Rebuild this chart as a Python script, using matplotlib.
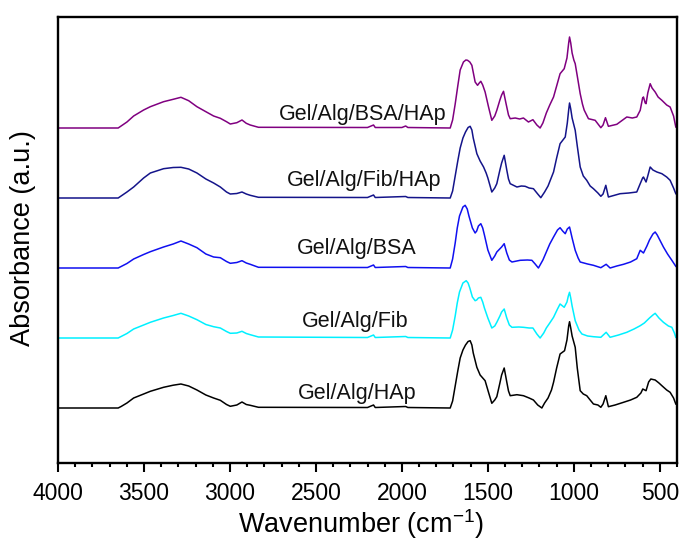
import matplotlib
matplotlib.use("Agg")
import matplotlib.pyplot as plt
from matplotlib.ticker import MultipleLocator, FixedLocator

plt.rcParams['font.family'] = ['Liberation Sans', 'DejaVu Sans']
plt.rcParams['mathtext.default'] = 'regular'

# (wavenumber cm^-1, absorbance a.u.)
bsa_hap = [(4000,0),(3650,0),(3633,2),(3599,6),(3560,12),(3502,18),(3463,21.3),(3386,26.3),(3330,28.7),
           (3285,30.7),(3240,27.3),(3192,21.3),(3140,16.3),(3095,12),(3056,9.7),(3020,6.3),(2998,4),
           (2960,5.3),(2930,8),(2905,4.7),(2882,3),(2834,0.7),(2200,0.5),(2165,3),(2155,0.5),(2000,0.5),
           (1978,2),(1965,0.5),
           (1719,0),(1705,8),(1690,24),(1675,42),(1661,58),(1642,66),(1628,68),(1618,67.7),(1605,66),
           (1593,62.7),(1574,46),(1560,42.7),(1550,45),(1541,46.7),(1530,43),(1516,36),(1496,21),(1477,7.7),
           (1460,12),(1448,17.7),(1430,28),(1420,33),(1409,36.7),(1395,25),(1380,13),(1370,9.3),(1341,10),
           (1315,9),(1293,10),(1264,6),(1238,8.3),(1215,3),(1196,0),(1180,5),(1160,15),(1140,23),(1118,31),
           (1100,42),(1080,54.3),(1056,59.3),(1040,70),(1030,85),(1025,91),(1018,85),(1010,75),(1000,68),
           (992,64.3),(980,52),(963,34.3),(950,24),(940,18),(915,9.3),(876,7.7),(843,0.3),(830,3),
           (816,10.3),(799,1.7),(750,3.7),(692,11),(660,10),(634,11),(614,17.7),(600,30),(595,31),
           (585,25),(580,24.3),(570,35),(556,44.3),(545,40),(527,36),(510,31),(488,27.7),(460,23),(440,21),
           (420,12),(407,1)]
fib_hap = [(4000,0),(3650,0),(3633,2),(3599,6),(3560,11),(3502,20),(3463,25),(3386,29.3),(3330,30.5),
           (3285,30.7),(3240,29),(3192,25),(3140,19),(3095,15),(3056,11),(3020,6),(2998,4),(2960,4.5),
           (2930,6),(2905,4),(2882,2.7),(2834,0.7),(2200,0.5),(2165,3),(2155,0.5),(1978,1.5),(1965,0.5),
           (1719,0),(1705,7),(1690,22),(1675,37),(1661,50),(1645,60),(1630,66),(1615,70.5),(1603,71.7),
           (1593,68),(1585,60),(1564,44.3),(1545,37),(1525,31),(1510,25),(1500,20),(1477,6),(1460,10),
           (1448,14.3),(1430,28),(1420,35),(1405,42.7),(1390,28),(1380,19),(1370,14.3),(1331,11),(1305,12),
           (1283,11.7),(1260,10),(1235,9.3),(1210,4),(1192,0.3),(1170,6),(1150,12),(1118,26),(1100,40),
           (1080,54.3),(1050,61),(1038,75),(1030,88),(1025,95),(1018,89),(1010,80),(992,67.7),(980,52),
           (963,31),(945,22),(925,17.7),(905,12),(886,9.3),(860,5),(843,1.7),(830,4),(814,12.7),(799,1),
           (731,4.3),(680,5),(634,6),(614,14.3),(600,20),(595,21),(580,16),(570,22),(556,31),(540,28),
           (517,26),(488,24.3),(460,21),(440,17.7),(420,10),(407,4.3)]
bsa = [(4000,0),(3650,0),(3633,1.5),(3599,4.5),(3560,9),(3502,13.5),(3463,16.3),(3386,21),(3330,24),
       (3285,27),(3240,24),(3192,20.3),(3140,14),(3095,11),(3056,10.3),(3020,6.5),(2998,4.7),(2960,5.5),
       (2930,7.3),(2905,5),(2882,3.7),(2834,0.7),(2200,0.5),(2165,3),(2155,0.5),(1978,1.5),(1965,0.5),
       (1719,0),(1705,9),(1690,25),(1678,40),(1665,52),(1645,61),(1632,62.7),(1620,59),(1610,52),
       (1590,40),(1574,35),(1565,37),(1555,42),(1541,44.3),(1530,40),(1520,33),(1500,18),(1477,7.7),
       (1460,12),(1448,16),(1420,21),(1405,24.3),(1390,15),(1375,8),(1360,6),(1312,7.7),(1270,8),
       (1244,7.7),(1225,4),(1206,0),(1180,8),(1160,16),(1140,24),(1118,31),(1095,38),(1080,40.3),
       (1065,37),(1050,34.3),(1038,39),(1025,41),(1018,36),(1010,30),(992,17.7),(975,10),(963,6),
       (920,4),(886,2.7),(843,0.3),(812,3.7),(789,0),(750,2),(711,3.7),(670,6),(634,9.3),(614,17.7),
       (595,15),(575,22),(560,28),(540,34),(527,36),(515,33),(500,28),(479,21),(455,14),(430,7.7),
       (407,1.7)]
fib = [(4000,0),(3650,0),(3633,1.5),(3599,4.5),(3560,9),(3502,13),(3463,15.7),(3386,20),(3330,22.5),
       (3285,24.7),(3240,22),(3192,18.3),(3140,13.5),(3095,11.3),(3056,10),(3020,6.5),(2998,4.7),
       (2960,5),(2930,6.7),(2905,4.5),(2882,3.3),(2834,1),(2200,0.5),(2165,3),(2155,0.5),(1978,1.5),
       (1965,0.5),
       (1719,0),(1705,8),(1690,22),(1678,35),(1665,46),(1645,55),(1626,57.3),(1615,55),(1605,50),
       (1590,41),(1574,37.3),(1565,38),(1555,40),(1541,40.7),(1530,36),(1520,30),(1500,20),(1477,10),
       (1460,12),(1448,15.7),(1430,22),(1420,26),(1405,29),(1390,20),(1375,13),(1360,10.7),(1320,11),
       (1293,10.7),(1260,10),(1238,10),(1215,4),(1196,0),(1175,5),(1160,10),(1140,15),(1118,20.7),
       (1095,29),(1080,34),(1056,30.7),(1040,36),(1032,42),(1025,45.7),(1018,40),(1010,32),(992,17.3),
       (970,8),(953,4),(920,2),(886,1.3),(843,0.7),(812,5.7),(789,0.7),(740,3),(692,5.7),(650,9),
       (614,12.3),(590,15),(560,20),(540,23),(527,24.7),(505,20),(479,15.7),(450,12),(430,10.7),
       (415,5),(407,0.7)]
hap = [(4000,0),(3650,0),(3633,1.5),(3599,5),(3560,10),(3502,14),(3463,16.7),(3386,20.7),(3330,22.8),
       (3285,24),(3240,22),(3192,18),(3140,13),(3095,10),(3056,7.7),(3020,3.5),(2998,1.7),(2960,3),
       (2930,6),(2905,3.5),(2882,2.7),(2834,0.7),(2200,0.5),(2165,3),(2155,0.5),(1978,1.5),(1965,0.5),
       (1719,0),(1705,7),(1690,22),(1675,37),(1661,50),(1645,58),(1630,63),(1615,66.5),(1603,67.3),
       (1593,63),(1585,55),(1564,40.7),(1545,33),(1516,27.3),(1495,15),(1477,4.7),(1460,8),
       (1448,11.3),(1430,25),(1420,33),(1405,40),(1390,26),(1380,17),(1370,12.3),(1331,13.3),
       (1293,12.3),(1260,10),(1235,8),(1210,3),(1186,0),(1170,5),(1150,10),(1130,18),(1118,25.7),
       (1100,40),(1080,54),(1054,57.3),(1040,68),(1030,82),(1025,86.3),(1018,80),(1010,72),(992,60.7),
       (980,40),(963,17.3),(945,14),(925,12.3),(905,8),(886,4),(860,3),(843,0.7),(830,4),(814,12.3),
       (799,1.3),(760,3),(711,5.7),(670,8),(634,10.7),(610,15),(599,19),(580,17.3),(565,26),(552,29),
       (540,28.5),(527,28),(505,25),(488,22.3),(460,18),(440,15.7),(420,10),(407,4)]

series = [bsa_hap, fib_hap, bsa, fib, hap]
names = ['Gel/Alg/BSA/HAp', 'Gel/Alg/Fib/HAp', 'Gel/Alg/BSA', 'Gel/Alg/Fib', 'Gel/Alg/HAp']
colors = ['#800080', '#14148a', '#1010f0', '#00f0ff', '#000000']
offsets = [335, 265, 195, 125, 55]
label_pos = [(1743, 343), (1772, 277.3), (1914, 209), (1963, 136.3), (1917, 64)]
xticks = [4000, 3500, 3000, 2500, 2000, 1500, 1000, 500]

fig = plt.figure(figsize=(6.81, 5.40), dpi=100)
ax = fig.add_axes([58/681, 1 - 463/540, (677 - 58)/681, (463 - 17)/540])

for data, name, c, off, (lx, ly) in zip(series, names, colors, offsets, label_pos):
    wn = [p[0] for p in data]
    a = [p[1] + off for p in data]
    ax.plot(wn, a, color=c, lw=1.1, solid_joinstyle='round')
    ax.text(lx, ly, name, fontsize=15.5, ha='right', va='baseline', color='#111111')

ax.set_xlim(4000, 400)
ax.set_ylim(0, 446)
ax.xaxis.set_major_locator(FixedLocator(xticks))
ax.set_xticklabels([str(t) for t in xticks])
ax.xaxis.set_minor_locator(MultipleLocator(100))
ax.set_yticks([])
ax.tick_params(axis='x', which='major', direction='out', length=6.5, width=1.5, labelsize=16.5, pad=7)
ax.tick_params(axis='x', which='minor', direction='out', length=3, width=1.5)
for s in ax.spines.values():
    s.set_linewidth(1.7)

ax.set_xlabel('Wavenumber (cm$^{-1}$)', fontsize=19.5)
ax.set_ylabel('Absorbance (a.u.)', fontsize=19.5)
ax.xaxis.set_label_coords(0.49, -0.1)
ax.yaxis.set_label_coords(-0.035, 0.505)

fig.savefig('out.png', dpi=100)
